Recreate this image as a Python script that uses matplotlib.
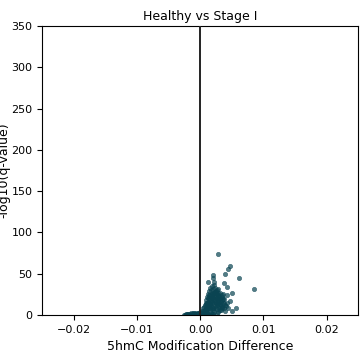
import numpy as np
import matplotlib
matplotlib.use('Agg')
import matplotlib.pyplot as plt

# modification difference (x1e-3) and -log10(q)
diffMilli = [-2.4, -2.2, -2.0, -1.8, -1.6, -1.4, -1.2, -1.0, -0.8, -0.6, -0.4, -0.2, -0.1, -1.9, -1.1, -0.5,
             -2.5, -2.3, -2.1, -1.7, -1.5, -1.3, -0.9, -0.7, -0.3, -0.05,
             0.1, 0.2, 0.3, 0.4, 0.5, 0.6, 0.7, 0.8, 0.9, 1.0, 1.0, 1.1, 1.1, 1.2, 1.2, 1.3, 1.3, 1.4, 1.4,
             1.5, 1.5, 1.6, 1.6, 1.7, 1.7, 1.8, 1.8, 1.9, 1.9, 2.0, 2.0, 2.1, 2.1, 2.2, 2.2, 2.3, 2.3, 2.4,
             2.4, 2.5, 2.5, 2.6, 2.6, 2.7, 2.7, 2.8, 2.8, 2.9, 2.9, 3.0, 3.0, 3.1, 3.2, 3.2, 3.3, 3.4, 3.5,
             3.5, 3.6, 3.7, 3.8, 3.9, 4.0, 4.2, 4.4, 0.3, 0.6, 0.9, 1.2, 1.5, 1.8, 2.1, 0.5, 0.8, 1.0, 0.2,
             0.4, 0.7,
             0.6, 0.8, 1.0, 1.1, 1.3, 1.4, 1.6, 1.7, 1.9, 2.0, 2.2, 2.3, 2.5, 2.6, 2.8, 3.0, 3.1, 3.3, 3.4,
             3.6, 1.2, 1.5, 1.8, 2.1, 2.4, 2.7, 3.0, 3.3, 0.9, 1.4, 1.9, 2.4, 2.9, 3.4, 3.8, 1.6, 2.0, 2.5,
             2.2, 1.7, 2.6, 3.1, 1.1, 0.4, 0.7, 1.3, 2.0, 2.8, 3.6, 4.1,
             2.9, 4.7, 4.4, 4.0, 6.2, 8.5, 2.0, 2.1, 1.3, 2.2, 3.7, 4.3, 5.1, 4.7, 5.6, 5.1, 4.2]
negLogQ = [0.5, 1, 0.8, 1.5, 0.6, 1.2, 2, 0.9, 1.6, 2.2, 1.1, 2.5, 0.7, 0.3, 0.4, 0.3,
           0.3, 0.6, 1.8, 0.4, 2.0, 0.5, 2.4, 0.8, 3.0, 3.5,
           1, 3, 5, 2, 8, 4, 12, 6, 15, 9, 18, 3, 22, 11, 26, 7, 16, 29, 20,
           13, 33, 24, 5, 17, 30, 10, 27, 35, 21, 14, 31, 25, 6, 19, 36, 28, 11, 23,
           33, 15, 8, 26, 20, 30, 12, 18, 4, 24, 27, 9, 16, 21, 13, 27, 6, 18, 22,
           10, 15, 8, 19, 12, 5, 14, 9, 0.5, 1.5, 2, 1, 0.5, 1.2, 0.8, 0.2, 0.4, 0.3, 0.6,
           1.2, 0.8,
           10, 3, 13, 7, 20, 11, 9, 23, 16, 22, 27, 17, 21, 13, 23, 19, 12, 16, 9,
           19, 15, 19, 21, 9, 18, 7, 22, 10, 6, 24, 14, 28, 14, 24, 15, 12, 26, 29,
           4, 2, 3, 6, 14, 5, 4, 8, 9, 31, 26, 11,
           73.5, 59.3, 55.7, 49.6, 44.4, 31.5, 49, 45, 40, 39.5, 39, 34, 27, 17, 9, 5, 24]

x = np.array(diffMilli) / 1000.0
y = np.array(negLogQ)

fig, ax = plt.subplots(figsize=(3.6, 3.6), dpi=100)
ax.scatter(x, y, s=10, color='#0a4452', alpha=0.7, edgecolors='#0a4452', linewidths=0.4, zorder=2)
ax.axvline(0, color='#222222', linewidth=1.4, zorder=3)

ax.set_xlim(-0.025, 0.025)
ax.set_ylim(0, 350)
ax.set_xticks([-0.02, -0.01, 0.0, 0.01, 0.02])
ax.set_yticks([0, 50, 100, 150, 200, 250, 300, 350])
ax.tick_params(labelsize=8)
ax.set_title('Healthy vs Stage I', fontsize=9, pad=4)
ax.set_xlabel('5hmC Modification Difference', fontsize=9)
ax.set_ylabel('-log10(q-value)', fontsize=9, labelpad=1)

fig.subplots_adjust(left=0.117, right=0.995, top=0.928, bottom=0.125)
fig.savefig('out.png', dpi=100)
